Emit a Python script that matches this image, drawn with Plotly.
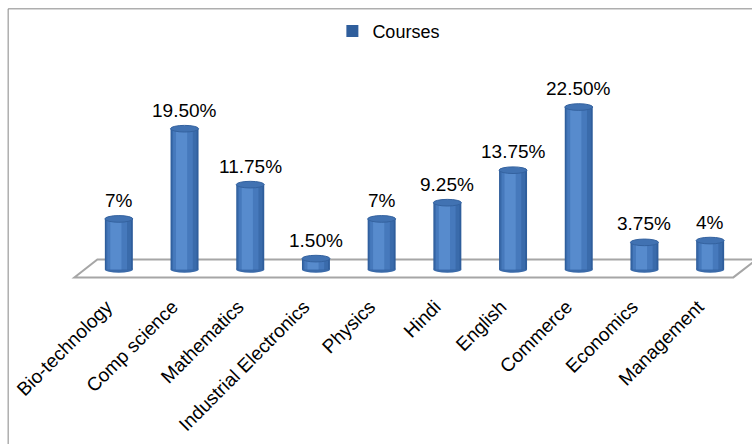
import plotly.graph_objects as go

categories = ["Bio-technology", "Comp science", "Mathematics", "Industrial Electronics",
              "Physics", "Hindi", "English", "Commerce", "Economics", "Management"]
values = [7, 19.5, 11.75, 1.5, 7, 9.25, 13.75, 22.5, 3.75, 4]
value_labels = ["7%", "19.50%", "11.75%", "1.50%", "7%", "9.25%", "13.75%", "22.50%", "3.75%", "4%"]
series_name = "Courses"

FONT = "Liberation Sans, Arial, sans-serif"
BAR_W = 0.426
ELL_H = 0.46  # half-height of the cylinder caps, in axis units

fig = go.Figure()

# cylinder body: layered bars to mimic the shaded 3D cylinder
layers = [
    (BAR_W, 0.0, "#2F5E9C", True),
    (0.38, -0.005, "#3A6BAB", False),
    (0.30, -0.025, "#4679BC", False),
    (0.17, -0.045, "#578BCD", False),
]
for w, shift, col, show in layers:
    fig.add_trace(go.Bar(
        x=categories, y=values, name=series_name, width=w,
        offset=-w / 2 + shift, marker=dict(color=col, line=dict(width=0)),
        showlegend=show, hoverinfo="x+y" if show else "skip",
    ))

shapes = []
# chart border
shapes.append(dict(type="rect", xref="paper", yref="paper",
                   x0=-0.1185, x1=1.05, y0=-1.0, y1=1.4175,
                   line=dict(color="#868686", width=1), fillcolor="rgba(0,0,0,0)", layer="below"))
# 3D floor (parallelogram)
shapes.append(dict(type="path", xref="paper", yref="y",
                   path="M -0.0177,-1.1 L 0.9853,-1.1 L 1.0203,1.37 L 0.0173,1.37 Z",
                   line=dict(color="#A6A6A6", width=2), fillcolor="rgba(0,0,0,0)", layer="below"))
for i, v in enumerate(values):
    # bottom cap
    shapes.append(dict(type="circle", xref="x", yref="y",
                       x0=i - BAR_W / 2, x1=i + BAR_W / 2, y0=-ELL_H, y1=ELL_H,
                       fillcolor="#3A6AA9", line=dict(width=0), layer="below"))
    # top cap
    shapes.append(dict(type="circle", xref="x", yref="y",
                       x0=i - BAR_W / 2, x1=i + BAR_W / 2, y0=v - ELL_H, y1=v + ELL_H,
                       fillcolor="#4172B2", line=dict(color="#34629F", width=1), layer="above"))

annotations = []
for c, v, t in zip(categories, values, value_labels):
    annotations.append(dict(x=c, y=v, text=t, showarrow=False, yanchor="bottom",
                            yshift=6, font=dict(family=FONT, size=19, color="#000000")))

fig.update_layout(
    width=752, height=444,
    margin=dict(l=85.65, r=9.35, t=88.5, b=161.3, pad=0),
    paper_bgcolor="white", plot_bgcolor="rgba(0,0,0,0)",
    barmode="overlay",
    shapes=shapes, annotations=annotations,
    showlegend=True,
    legend=dict(orientation="h", x=0.375, y=1.30, xanchor="left", yanchor="middle",
                font=dict(family=FONT, size=18, color="#000000"), bgcolor="rgba(0,0,0,0)"),
    xaxis=dict(type="category", range=[-0.5, 9.5], showgrid=False, showline=False,
               zeroline=False, ticks="", tickangle=-45,
               ticklabelshift=-12, ticklabelstandoff=10,
               tickfont=dict(family=FONT, size=19, color="#000000")),
    yaxis=dict(range=[-1.6, 25], visible=False, showgrid=False, zeroline=False),
)

fig.write_html("out.html")
